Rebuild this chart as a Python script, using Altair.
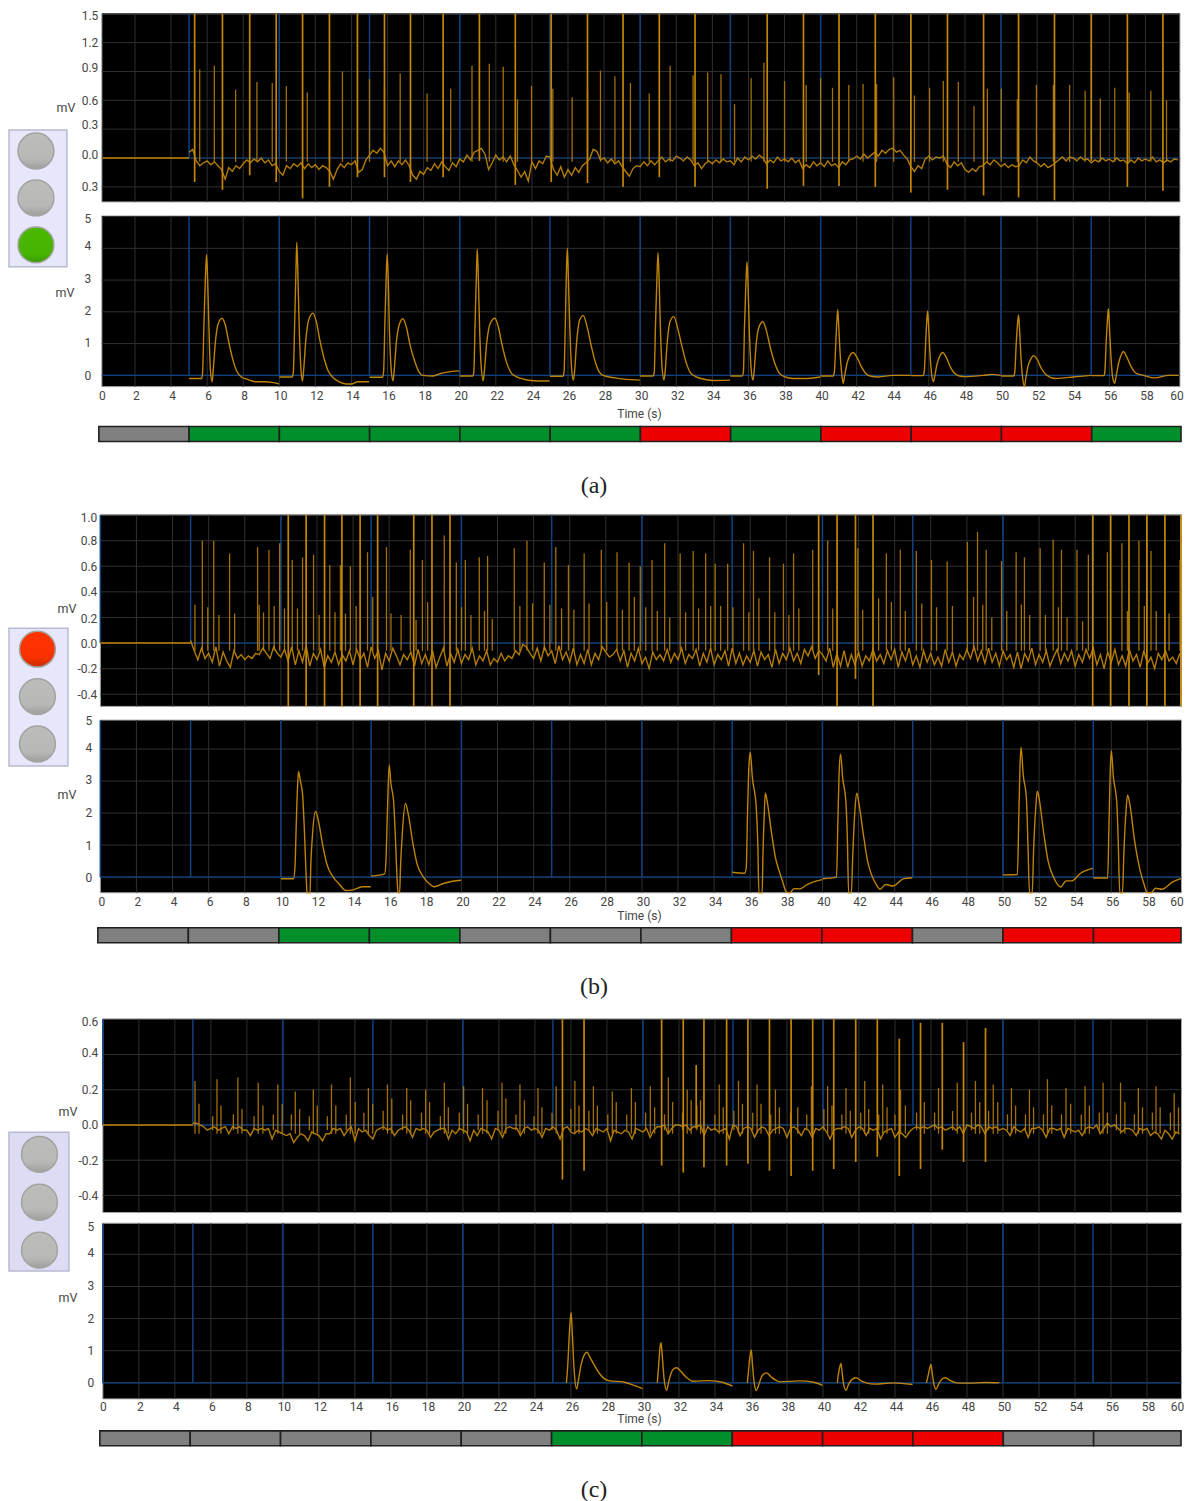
import altair as alt
import pandas as pd

# ---------- shared values ----------
GRID_T = list(range(2, 60, 2))
BLUE_T = [5, 10, 15, 20, 25, 30, 35, 40, 45, 50, 55]
X_TICKS = list(range(0, 61, 2))
SEG_START = list(range(0, 60, 5))
BOTTOM_TICKS = [5, 4, 3, 2, 1, 0]
LIGHT_NAMES = ["top", "mid", "bot"]

# ---------- trace (a) ----------
A_FULL = [(5.31,-.25),(6.85,-.33),(8.36,-.18),(9.83,-.25),(11.29,-.42),(12.78,-.3),(14.33,-.2),(15.83,-.2),
          (17.27,-.25),(19.08,-.2),(21.09,-.03),(23.08,-.28),(25.07,-.25),(27.08,-.26),(29.05,-.3),(31.06,-.2),
          (33.04,-.3),(37.04,-.32),(39.05,-.29),(41.02,-.29),(43.03,-.3),(45.0,-.36),(47.03,-.33),(49.03,-.39),
          (50.97,-.41),(52.96,-.44),(55.0,-.03),(57.0,-.3),(58.97,-.34)]
A_SPIKES = [(5.59,.92),(6.40,.96),(7.58,.71),(8.76,.79),(9.61,.78),(10.39,.75),(11.55,.68),(12.78,.8),(13.5,.9),
            (15.0,.82),(15.83,.75),(16.7,.88),(18.19,.67),(19.5,.72),(20.68,.96),(21.64,.98),(22.41,.95),(23.2,.61),
            (23.98,.75),(25.16,.72),(26.23,.63),(27.08,.7),(27.8,.91),(28.6,.85),(29.46,.78),(30.5,.67),(31.66,.96),
            (32.93,.86),(33.74,.89),(34.48,.87),(35.23,.56),(36.15,.83),(36.86,.99),(38.0,.8),(39.2,.76),(40.0,.83),
            (40.66,.73),(41.56,.76),(42.35,.77),(43.1,.77),(44.05,.84),(45.2,.65),(46.04,.73),(46.8,.8),(47.63,.79),
            (48.5,.54),(49.24,.72),(50.01,.72),(50.9,.61),(51.96,.76),(52.9,.76),(53.8,.76),(54.66,.7),(55.5,.62),
            (56.3,.73),(57.1,.68),(58.3,.7),(59.17,.6)]
A_NOISE = [6,9,-3,-8,-5, -3,-7,-4,-8,-12, -22,-10,-14,-8,-11, -6,-2,-5,-1,-4, 0,-5,-2,-8,-6,
           -14,-18,-8,-11,-6, -9,-5,-11,-6,-10, -7,-12,-8,-10,-14, -22,-12,-6,-10,-5, -7,-3,-15,-12,-2,
           3,8,5,10,6, -8,-3,-9,-3,-7, -2,-8,-18,-22,-14, -17,-10,-13,-6,-11, -4,-9,-13,-5,-9,
           -1,-4,3,-2,6, 8,10,4,-12,-5, 3,-2,1,-4,2, -7,-13,-20,-14,-24, -4,-11,-3,-6,2,
           1,-12,-18,-9,-20, -12,-18,-10,-15,-8, -5,-1,9,7,-2, 0,-5,-1,-6,-3, -9,-14,-19,-11,-8,
           -9,-4,-8,-3,-7, -3,1,-4,-1,-3, 2,0,-3,1,-2, -8,-5,-11,-6,-3, -6,-2,-5,-1,-4,
           -3,-7,0,-4,1, -2,2,-1,3,0, -6,-2,-5,1,-3, -1,-4,0,-5,-2, -11,-7,-10,-4,-8,
           -5,-9,-3,-8,-6, -10,-4,-7,-2,-1, 2,-1,4,0,3, 6,2,8,5,9, 10,6,8,3,-1,
           -9,-14,-8,-11,-1, 2,-2,1,0,2, -6,-10,-4,-8,-5, -12,-15,-11,-14,-9, -8,-4,-7,-2,-5,
           -9,-6,-10,-7,-9, -8,-2,-5,1,-3, -5,-9,-6,-10,-8, -5,-2,1,-3,1, 0,-3,1,-2,-1,
           -5,-2,-4,0,-3, -1,-4,0,-3,-2, -6,-2,-5,0,-3, -1,-3,1,-4,-2, -5,-2,-4,-1,-2]
A_BEATS = [
 [(5,-.1),(5.7,-.1),(5.75,.1),(5.82,1.5),(5.9,3),(5.97,3.8),(6.03,3.0),(6.1,1.5),(6.18,.2),(6.28,-.2),(6.33,.1),(6.45,1),(6.6,1.6),(6.83,1.8),(7.0,1.6),(7.2,1.05),(7.4,.55),(7.65,.12),(7.9,-.05),(8.2,-.12),(8.7,-.2),(9.2,-.2),(9.6,-.22),(9.98,-.27)],
 [(10,-.05),(10.72,-.05),(10.78,.1),(10.85,1.6),(10.92,3.2),(10.97,4.19),(11.03,3.2),(11.1,1.6),(11.2,.2),(11.28,-.18),(11.34,.1),(11.47,1.1),(11.63,1.75),(11.87,1.96),(12.05,1.7),(12.25,1.1),(12.45,.6),(12.7,.15),(12.95,-.05),(13.3,-.2),(13.7,-.27),(14.0,-.27),(14.35,-.2),(14.98,-.2)],
 [(15,-.06),(15.72,-.06),(15.78,.1),(15.85,1.6),(15.92,3),(15.98,3.83),(16.04,3),(16.1,1.5),(16.2,.2),(16.3,-.17),(16.36,.1),(16.48,1),(16.65,1.6),(16.85,1.78),(17.05,1.5),(17.25,.95),(17.5,.45),(17.75,.1),(17.95,0),(18.5,-.02),(18.9,.05),(19.3,.1),(19.98,.14)],
 [(20,-.02),(20.72,-.02),(20.78,.1),(20.85,1.6),(20.92,3.1),(20.97,3.97),(21.03,3.1),(21.1,1.5),(21.2,.2),(21.3,-.17),(21.36,.1),(21.5,1.05),(21.7,1.65),(21.95,1.8),(22.15,1.5),(22.35,.95),(22.6,.4),(22.85,.08),(23.1,-.03),(23.6,-.13),(24.1,-.17),(24.6,-.18),(24.98,-.18)],
 [(25,-.03),(25.72,-.03),(25.78,.1),(25.85,1.6),(25.91,3.2),(25.96,4),(26.02,3.1),(26.1,1.5),(26.2,.2),(26.3,-.15),(26.36,.1),(26.48,1.05),(26.65,1.75),(26.85,1.88),(27.05,1.55),(27.3,.9),(27.55,.35),(27.8,.06),(28.05,-.02),(28.6,-.08),(29.1,-.12),(29.98,-.15)],
 [(30,-.02),(30.72,-.02),(30.78,.1),(30.85,1.6),(30.93,3.1),(30.99,3.86),(31.05,3),(31.12,1.5),(31.22,.2),(31.32,-.15),(31.38,.1),(31.5,1.05),(31.66,1.7),(31.87,1.85),(32.05,1.55),(32.3,.95),(32.55,.4),(32.8,.07),(33.05,-.03),(33.6,-.13),(34.1,-.16),(34.98,-.15)],
 [(35,-.02),(35.65,-.02),(35.72,.1),(35.78,1.5),(35.86,2.9),(35.92,3.58),(35.98,2.8),(36.05,1.4),(36.15,.2),(36.25,-.15),(36.31,.1),(36.43,1),(36.6,1.55),(36.8,1.69),(37,1.4),(37.2,.9),(37.45,.4),(37.7,.08),(37.95,-.03),(38.5,-.1),(39.1,-.1),(39.98,-.05)],
 [(40,-.02),(40.7,-.02),(40.76,.1),(40.84,1),(40.9,1.7),(40.95,2.07),(41.0,1.6),(41.07,.8),(41.17,.05),(41.25,-.25),(41.32,-.05),(41.45,.35),(41.62,.62),(41.8,.72),(42,.58),(42.25,.28),(42.5,.06),(42.75,-.02),(43.2,-.05),(44,0),(44.98,0)],
 [(45,-.01),(45.68,-.01),(45.74,.1),(45.82,1),(45.88,1.7),(45.93,2.03),(45.98,1.6),(46.05,.8),(46.15,.05),(46.25,-.2),(46.32,-.03),(46.45,.35),(46.6,.6),(46.77,.72),(46.95,.58),(47.2,.25),(47.45,.05),(47.75,-.03),(48,-.04),(49,0),(49.5,.03),(49.98,0)],
 [(50,-.02),(50.7,-.02),(50.76,.1),(50.84,1),(50.91,1.6),(50.97,1.9),(51.02,1.5),(51.09,.7),(51.2,-.1),(51.3,-.35),(51.37,-.1),(51.5,.3),(51.65,.52),(51.8,.62),(52,.5),(52.25,.2),(52.5,.02),(53,-.1),(53.5,-.08),(54,-.05),(54.98,0)],
 [(55,-.01),(55.7,-.01),(55.75,.1),(55.83,1.1),(55.9,1.8),(55.95,2.1),(56.0,1.6),(56.08,.7),(56.18,-.05),(56.3,-.25),(56.37,-.05),(56.5,.35),(56.65,.63),(56.78,.75),(56.95,.6),(57.2,.28),(57.5,.06),(57.9,0),(58.5,-.08),(59.3,0),(59.85,0)],
]
A_LIGHTS = ["off", "off", "green"]
A_STRIP = ["#808080","#008f2b","#008f2b","#008f2b","#008f2b","#008f2b","#ee0000","#008f2b","#ee0000","#ee0000","#ee0000","#008f2b"]

# ---------- trace (b) ----------
B_FULL = [10.41,11.4,12.42,13.38,14.39,15.36,17.36,18.37,19.37,40.81,42.8,54.97,55.96,56.98,57.97,58.97,59.85]
B_HALF = [(39.79,-.25),(41.83,-.28)]
B_SPIKES = [(5.24,.3),(5.65,.8),(5.95,.28),(6.28,.8),(6.57,.22),(7.16,.7),(7.44,.23),(8.71,.75),(8.8,.3),(9.04,.24),(9.34,.73),(9.63,.29),
            (9.93,.78),(10.2,.27),(10.63,.65),(10.92,.27),(11.2,.67),(11.81,.69),(12.12,.22),(12.71,.61),(13.0,.24),(13.3,.61),(13.58,.23),
            (13.85,.6),(14.17,.29),(14.8,.71),(15.09,.36),(15.85,.75),(16.1,.23),(16.66,.22),(17.17,.73),(17.49,.18),(17.84,.65),(18.13,.32),
            (19.05,.84),(19.72,.63),(20.01,.28),(20.22,.65),(20.53,.22),(20.99,.67),(21.28,.25),(21.45,.68),(21.71,.19),(22.93,.74),(23.24,.29),
            (23.63,.8),(23.94,.31),(24.59,.63),(24.9,.3),(25.23,.75),(25.55,.27),(25.93,.61),(26.23,.26),(26.8,.7),(27.07,.31),(27.75,.73),
            (28.05,.32),(28.62,.71),(28.92,.26),(29.29,.63),(29.58,.36),(29.91,.6),(30.21,.28),(30.56,.65),(30.85,.25),(31.26,.78),(31.54,.2),
            (32.12,.7),(32.42,.24),(32.84,.72),(33.14,.27),(33.53,.7),(33.81,.29),(34.06,.62),(34.36,.29),(34.75,.62),(35.04,.28),(35.63,.78),
            (35.92,.24),(36.18,.72),(36.48,.35),(37.07,.67),(37.36,.24),(37.84,.62),(38.14,.22),(38.4,.7),(38.69,.27),(39.46,.73),(40.29,.8),
            (40.57,.27),(41.96,.74),(42.23,.26),(43.11,.35),(43.54,.7),(43.82,.32),(44.31,.73),(44.59,.25),(45.2,.72),(45.5,.31),(46.04,.65),
            (46.32,.28),(46.91,.64),(47.2,.29),(48.03,.79),(48.37,.36),(48.59,.87),(48.88,.3),(49.07,.73),(49.38,.2),(49.92,.64),(50.21,.25),
            (50.73,.71),(51.02,.3),(51.19,.67),(51.48,.22),(52.06,.74),(52.35,.22),(52.78,.81),(53.07,.28),(53.24,.73),(53.55,.2),(54.1,.73),
            (54.41,.17),(54.73,.69),(55.78,.71),(56.59,.78),(56.89,.25),(57.53,.8),(57.83,.29),(58.2,.72),(58.49,.25),(59.2,.23),(59.81,.65)]
B_NOISE = [2,-6,-13,-4,-12, -8,-15,-3,-18,-7, -14,-19,-6,-12,-9, -13,-10,-12,-8,-9, -4,-8,-12,-3,-8,
           -11,-5,-14,-3,-17, -6,-15,-2,-18,-8, -13,-5,-19,-10,-15, -7,-17,-9,-14,-6, -17,-5,-13,-8,-19,
           -3,-12,-6,-21,-8, -14,-4,-10,-17,-9, -13,-7,-18,-5,-16, -9,-17,-6,-19,-11, -4,-18,-8,-15,-5,
           -16,-9,-13,-4,-17, -10,-14,-6,-17,-12, -15,-8,-14,-10,-12, -6,-9,-1,-3,-8, -12,-4,-14,-3,-10,
           -6,-16,-2,-13,-7, -15,-4,-17,-9,-16, -5,-17,-8,-13,-3, -7,-11,-9,-5,-14, -6,-19,-8,-14,-4,
           -16,-11,-20,-7,-13, -9,-14,-5,-15,-8, -13,-4,-16,-9,-12, -5,-18,-8,-15,-4, -17,-9,-13,-6,-18,
           -4,-16,-8,-17,-10, -15,-6,-18,-7,-13, -9,-19,-5,-16,-8, -13,-4,-14,-8,-16, -5,-10,-3,-12,-6,
           -9,-14,-4,-19,-8, -18,-6,-19,-9,-17, -7,-18,-10,-14,-5, -14,-9,-16,-6,-13, -5,-19,-7,-14,-4,
           -17,-10,-19,-6,-15, -8,-17,-11,-18,-5, -15,-7,-18,-9,-13, -5,-12,-3,-14,-6, -16,-4,-15,-8,-18,
           -6,-13,-9,-19,-7, -20,-8,-14,-4,-17, -9,-15,-6,-18,-11, -5,-16,-8,-14,-6, -18,-9,-15,-5,-12,
           -4,-17,-9,-20,-7, -15,-5,-17,-10,-18, -5,-14,-9,-19,-6, -16,-11,-20,-8,-13, -6,-14,-11,-16,-8]
B_BEATS = [
 [(10,-.05),(10.7,-.05),(10.78,.3),(10.85,1.6),(10.93,2.9),(10.98,3.3),(11.08,3.0),(11.2,2.6),(11.3,1.5),(11.42,-.2),(11.45,-.49),(11.62,-.49),(11.65,.2),(11.75,1.3),(11.92,2.05),(12.1,1.7),(12.3,1.05),(12.55,.4),(12.9,0),(13.2,-.2),(13.6,-.42),(14.0,-.4),(14.5,-.3),(14.98,-.3)],
 [(15,.03),(15.75,.1),(15.82,.5),(15.9,2),(16,3.5),(16.1,2.9),(16.24,2.4),(16.34,1.3),(16.45,-.2),(16.49,-.49),(16.58,-.49),(16.62,.2),(16.72,1.3),(16.9,2.3),(17.08,1.9),(17.3,1.1),(17.55,.4),(17.9,0),(18.2,-.2),(18.5,-.3),(19,-.2),(19.5,-.13),(19.98,-.1)],
 [(35,.15),(35.7,.12),(35.78,.3),(35.85,2),(35.93,3.5),(36,3.9),(36.12,3.1),(36.33,2.2),(36.42,1),(36.48,-.49),(36.66,-.49),(36.7,.6),(36.78,2),(36.83,2.62),(36.93,2.4),(37.15,1.5),(37.4,.6),(37.6,.2),(37.8,-.15),(38,-.47),(38.2,-.49),(38.43,-.36),(38.75,-.37),(39.1,-.25),(39.5,-.15),(39.98,-.08)],
 [(40,-.05),(40.78,0),(40.85,1.6),(40.92,3.2),(41,3.85),(41.12,3.1),(41.3,2.35),(41.38,1.2),(41.45,-.49),(41.6,-.49),(41.68,.7),(41.8,2.1),(41.9,2.62),(42.02,2.3),(42.25,1.4),(42.5,.5),(42.7,.1),(42.95,-.2),(43.2,-.38),(43.5,-.23),(43.9,-.28),(44.5,-.05),(44.98,-.02)],
 [(50,.07),(50.8,.08),(50.87,1.7),(50.94,3.4),(51,4.06),(51.12,3.2),(51.3,2.45),(51.38,1.1),(51.47,-.49),(51.62,-.49),(51.7,.9),(51.82,2.2),(51.9,2.68),(52.02,2.4),(52.25,1.4),(52.5,.5),(52.8,0),(53.2,-.31),(53.5,-.12),(53.8,-.12),(54.3,.12),(54.98,.27)],
 [(55,-.03),(55.8,-.03),(55.87,1.6),(55.94,3.3),(56,3.96),(56.12,3.1),(56.3,2.38),(56.38,1.2),(56.47,-.49),(56.62,-.49),(56.7,.8),(56.82,2.1),(56.9,2.57),(57.02,2.3),(57.3,1.1),(57.6,.2),(57.8,-.2),(58,-.49),(58.2,-.49),(58.45,-.35),(58.8,-.38),(59.4,-.15),(59.85,-.05)],
]
B_LIGHTS = ["red", "off", "off"]
B_STRIP = ["#808080","#808080","#008f2b","#008f2b","#808080","#808080","#808080","#ee0000","#ee0000","#808080","#ee0000","#ee0000"]

# ---------- trace (c) ----------
C_FULL = [(25.53,-.31),(26.73,-.26),(31.04,-.23),(32.24,-.27),(33.39,-.24),(34.65,-.23),(35.83,-.22),(37.03,-.26),(38.23,-.29),(39.43,-.26),(40.6,-.25),(41.82,-.21)]
C_TALL = [(43.02,.6,-.18),(44.24,.49,-.29),(45.42,.58,-.25),(46.63,.58,-.14),(47.81,.47,-.21),(49.03,.55,-.21),(32.96,.34,-.02)]
C_SPIKES = [(5.12,.25),(5.34,.12),(6.34,.26),(6.56,.11),(7.5,.27),(7.73,.09),(8.63,.24),(8.89,.11),(9.72,.23),(9.96,.12),(10.69,.19),(10.93,.09),
            (11.69,.2),(11.91,.11),(12.7,.23),(12.94,.11),(13.75,.27),(14.02,.13),(14.75,.21),(14.99,.12),(15.81,.23),(16.05,.15),(16.88,.21),(17.1,.14),
            (17.93,.2),(18.15,.13),(18.97,.24),(19.19,.1),(20.04,.22),(20.26,.12),(21.09,.21),(21.34,.14),(22.17,.24),(22.39,.15),(23.17,.23),(23.42,.14),
            (24.17,.21),(24.39,.1),(25.18,.22),(26.22,.25),(26.45,.11),(27.25,.22),(27.47,.11),(28.3,.19),(28.52,.13),(29.36,.21),(29.58,.13),(30.41,.22),
            (30.65,.1),(31.41,.27),(31.65,.13),(32.46,.2),(32.68,.14),(33.2,.14),(34.24,.23),(34.46,.1),(35.31,.25),(35.53,.12),(36.34,.23),(36.56,.12),
            (37.36,.2),(37.58,.1),(38.6,.1),(39.36,.22),(40.26,.22),(40.5,.11),(41.28,.21),(41.52,.08),(42.32,.25),(42.54,.09),(43.32,.23),(43.56,.1),
            (44.31,.2),(44.58,.11),(45.63,.13),(46.42,.21),(47.46,.24),(48.47,.25),(48.71,.13),(49.46,.23),(49.71,.13),(50.47,.21),(50.7,.11),(51.47,.2),
            (51.7,.1),(52.47,.26),(52.71,.11),(53.5,.21),(53.76,.12),(54.56,.22),(54.8,.11),(55.56,.24),(55.8,.07),(56.53,.24),(56.77,.13),(57.52,.21),
            (57.75,.1),(58.5,.22),(58.73,.1),(59.51,.18),(59.75,.1)]
C_PRE_T = [6.1,7.25,8.4,9.47,10.47,11.47,12.47,13.52,14.5,15.57,16.65,17.7,18.75,19.8,20.85,21.95,22.95,23.95,24.95,26,27,28.05,29.1,30.15,
           31.2,32.2,33,34,35.05,36.1,37.1,38.2,39.1,40.05,41.05,42.1,43.1,44,45.2,46.2,47.2,48.25,49.2,50.25,51.25,52.25,53.25,54.35,55.35,56.3,57.3,58.3,59.3]
C_PRE_V = [.05,.06,.05,.06,.06,.05,.05,.06,.07,.08,.06,.07,.05,.07,.06,.08,.06,.05,.07,.09,.08,.06,.06,.07,
           .06,.07,.11,.06,.08,.07,.06,.07,.06,.09,.06,.07,.06,.06,.07,.07,.08,.07,.08,.06,.06,.06,.06,.06,.07,.06,.06,.07,.07]
C_NOISE = [1,1,0,-1,-3, -2,-1,-3,-2,-1, -5,-1,-2,-1,-3, -3,-6,-2,-3,-2, -3,-2,-8,-3,-4,
           -5,-6,-5,-10,-7, -5,-6,-9,-4,-5, -6,-9,-5,-5,-2, -3,-2,-6,-3,-1, -9,-2,-4,-3,-6,
           -8,-3,-2,-1,-3, -2,-6,-3,-2,-1, -3,-7,-2,-3,-2, -3,-7,-4,-3,-2, -2,-8,-3,-5,-2,
           -3,-4,-9,-3,-6, -2,-3,-4,-8,-2, -3,-7,-2,-1,-2, -2,-6,-2,-1,-3, -2,-3,-7,-2,-3,
           -1,-3,-8,-2,-1, -4,-5,-3,-4,-2, -3,-6,-2,-3,-4, -2,-9,-3,-4,-5, -3,-4,-8,-2,-3,
           -4,-2,-7,-3,-1, -1,0,-5,-2,0, 0,-1,0,-3,-1, -1,0,-6,-1,-3, -2,-4,-3,-2,-8,
           0,-1,-6,-2,-1, -2,-7,-3,-1,-2, -6,-3,-2,-1,-2, -7,-2,-1,-3,-6, -2,-3,-7,-2,-3,
           -1,-4,-8,-3,-2, -2,-1,-2,-7,-3, -1,-2,-6,-2,-3, -2,-8,-4,-3,-2, -7,-4,-5,-7,-4,
           -2,-1,-2,-1,-2, -1,0,-2,-1,-3, -2,-1,-3,-1,-5, 0,-1,-2,0,-1, -5,-1,-2,-1,-3,
           -2,-3,-6,-1,-3, -4,-2,-7,-2,-2, -1,-3,-7,-2,-2, -3,-2,-7,-2,-3, -4,-3,-6,-2,-1,
           -2,0,-5,-2,1, -1,0,-2,-4,-2, -2,-3,-6,-2,-3, -2,-6,-4,-5,-8, -3,-5,-8,-4,-5]
C_BEATS = [
 [(25.75,0),(25.82,.5),(25.92,1.6),(26.01,2.2),(26.08,1.5),(26.18,.4),(26.32,-.19),(26.42,.1),(26.58,.6),(26.75,.88),(26.89,.95),(27.05,.8),(27.3,.55),(27.63,.26),(27.85,.13),(28.1,.07),(28.97,.02),(29.5,-.08),(29.98,-.18)],
 [(30.8,0),(30.88,.6),(30.95,1.1),(31.01,1.25),(31.08,.8),(31.18,.1),(31.32,-.23),(31.42,0),(31.58,.32),(31.72,.44),(31.87,.47),(32.1,.36),(32.4,.18),(32.8,.05),(33.7,.07),(34.4,.02),(34.98,-.1)],
 [(35.8,0),(35.87,.4),(35.95,.85),(36.02,1.02),(36.08,.6),(36.18,0),(36.3,-.24),(36.42,-.08),(36.6,.2),(36.75,.29),(36.87,.31),(37.1,.2),(37.35,.09),(37.6,.03),(38.7,.06),(39.5,.02),(39.98,-.08)],
 [(40.8,0),(40.87,.3),(40.95,.53),(41,.6),(41.07,.3),(41.15,-.05),(41.28,-.23),(41.42,-.05),(41.6,.1),(41.84,.16),(42.1,.07),(42.4,0),(42.9,-.04),(43.9,0),(44.98,-.05)],
 [(45.75,0),(45.85,.25),(45.95,.5),(46,.57),(46.07,.3),(46.16,-.03),(46.28,-.2),(46.42,-.05),(46.6,.11),(46.8,.16),(47.05,.08),(47.4,0),(48.1,-.01),(49,.01),(49.8,0)],
]
C_LIGHTS = ["off", "off", "off"]
C_STRIP = ["#808080"]*5 + ["#008f2b","#008f2b","#ee0000","#ee0000","#ee0000","#808080","#808080"]

ORANGE = "#c98a08"
BLUE = "#0d4283"
GRID = "#303030"
TEXT = "#454545"
FONT = "Roboto"
T0 = 5.0
DT = 0.2
VIEW_W = 1176
RIGHT_EDGE = 1183.5
FILLS = {
    "off": alt.Gradient(gradient="linear", x1=0, x2=0, y1=0, y2=1,
                        stops=[alt.GradientStop(color="#bcbcba", offset=0), alt.GradientStop(color="#b8b8b6", offset=.72),
                               alt.GradientStop(color="#a2a2a0", offset=.95), alt.GradientStop(color="#acacaa", offset=1)]),
    "green": alt.Gradient(gradient="linear", x1=0, x2=0, y1=0, y2=1,
                          stops=[alt.GradientStop(color="#4ab700", offset=0), alt.GradientStop(color="#47b400", offset=.75),
                                 alt.GradientStop(color="#399a00", offset=1)]),
    "red": alt.Gradient(gradient="linear", x1=0, x2=0, y1=0, y2=1,
                        stops=[alt.GradientStop(color="#ff3300", offset=0), alt.GradientStop(color="#fb3200", offset=.72),
                               alt.GradientStop(color="#c42c00", offset=1)]),
}
one = pd.DataFrame({"k": [0]})


def panel(vt, vb, pt, pb, x0, x60, pl, pr, ydom, yticks, ylab, yoff, lab_x, mv, line_segs, spikes_thin, spikes_thick,
          noise=None, zero_from=0, blue_extra=(), xaxis=None, lights=None, bg_top=None, blue_hi=None):
    xs = alt.Scale(domain=[0, 60], range=[x0 - 8, x60 - 8])
    ys = alt.Scale(domain=ydom, range=[pb - vt, pt - vt], zero=False, nice=False)
    top = pt if bg_top is None else bg_top
    hi = ydom[1] if blue_hi is None else blue_hi
    pr = min(pr, RIGHT_EDGE)
    bg = alt.Chart(one).mark_rect(fill="black", stroke="#a8a8a8", strokeWidth=1).encode(
        x=alt.value(pl - 8), x2=alt.value(pr - 8), y=alt.value(top - vt), y2=alt.value(pb - vt))
    cond = {"condition": [{"test": f"datum.value==={v}", "value": o} for v, o in yoff.items()], "value": 0}
    yaxis = alt.Axis(values=yticks, title=None, grid=False, ticks=False, domain=False, labelExpr=ylab, offset=-(lab_x - 8),
                     labelPadding=0, labelFont=FONT, labelFontSize=12, labelColor=TEXT, labelOffset=cond)
    grid_v = [v for v in yticks if ydom[0] <= v <= hi]
    ygrid = alt.Chart(pd.DataFrame({"v": grid_v})).mark_rule(color=GRID, strokeWidth=1).encode(
        y=alt.Y("v:Q", scale=ys, axis=yaxis), x=alt.value(pl - 8), x2=alt.value(pr - 8))
    X = lambda f: alt.X(f, scale=xs, axis=xaxis)
    Y = lambda f: alt.Y(f, scale=ys, axis=yaxis)
    xgrid = alt.Chart(pd.DataFrame({"t": GRID_T})).mark_rule(color=GRID, strokeWidth=1).encode(
        x=X("t:Q"), y=alt.value(top - vt), y2=alt.value(pb - vt))
    blue_t = list(blue_extra) + BLUE_T
    blue_v = alt.Chart(pd.DataFrame({"t": blue_t, "lo": [0.0] * len(blue_t), "hi": [hi] * len(blue_t)})).mark_rule(
        color=BLUE, strokeWidth=1.5).encode(x=X("t:Q"), y=Y("lo:Q"), y2="hi:Q")
    blue_h = alt.Chart(pd.DataFrame({"a": [zero_from], "b": [59.85], "v": [0.0]})).mark_rule(color=BLUE, strokeWidth=1.2).encode(
        x=X("a:Q"), x2="b:Q", y=Y("v:Q"))
    layers = [bg, ygrid, xgrid, blue_v, blue_h]
    recs = []
    for i, seg in enumerate(line_segs):
        recs += [{"t": t, "v": v, "s": i} for t, v in seg]
    layers.append(alt.Chart(pd.DataFrame(recs)).mark_line(color=ORANGE, strokeWidth=1.4, opacity=.95, interpolate="monotone").encode(
        x=X("t:Q"), y=Y("v:Q"), detail="s:N"))
    if noise is not None:
        nrec = [{"t": T0 + DT * i, "v": n / 100} for i, n in enumerate(noise) if T0 + DT * i <= 59.85]
        layers.append(alt.Chart(pd.DataFrame(nrec)).mark_line(color="#c78a0a", strokeWidth=1.4, opacity=.9).encode(
            x=X("t:Q"), y=Y("v:Q")))
    if spikes_thin is not None:
        layers.append(alt.Chart(pd.DataFrame(spikes_thin, columns=["t", "p", "q"])).mark_rule(color="#b57c08", strokeWidth=1.3, opacity=.9).encode(
            x=X("t:Q"), y=Y("p:Q"), y2="q:Q"))
    if spikes_thick is not None:
        layers.append(alt.Chart(pd.DataFrame(spikes_thick, columns=["t", "p", "q"])).mark_rule(color="#c48605", strokeWidth=1.7).encode(
            x=X("t:Q"), y=Y("p:Q"), y2="q:Q"))
    layers.append(alt.Chart(one).mark_text(text="mV", font=FONT, fontSize=12.5, color=TEXT).encode(
        x=alt.value(mv[0] - 8), y=alt.value(mv[1] - vt)))
    main = alt.layer(*layers)
    if lights is not None:
        states, box, cx, cys, fill = lights
        b = alt.Chart(one).mark_rect(fill=fill, stroke="#b9b9d2", strokeWidth=1.5).encode(
            x=alt.value(box[0] - 8), x2=alt.value(box[1] - 8), y=alt.value(box[2] - vt), y2=alt.value(box[3] - vt))
        lscale = alt.Scale(type="point", domain=LIGHT_NAMES, range=[cys[0] - vt, cys[1] - vt], padding=0)
        ll = [b]
        for name, st in zip(LIGHT_NAMES, states):
            ll.append(alt.Chart(pd.DataFrame({"light": [name]})).mark_point(
                shape="circle", filled=True, size=1290, fill=FILLS[st], stroke="#a3a39f", strokeWidth=1.5, opacity=1).encode(
                x=alt.value(cx - 8), y=alt.Y("light:N", scale=lscale, axis=None)))
        main = alt.layer(main, *ll).resolve_scale(y="independent")
    return main.properties(width=VIEW_W, height=vb - vt)


def strip(vt, vb, pt, pb, x0, x60, colors, caption, cap_y):
    xs = alt.Scale(domain=[0, 60], range=[x0 - 8, x60 - 8])
    ends = [s + 5 for s in SEG_START]
    ends[-1] = min(60, (1183 - x0) / ((x60 - x0) / 60))
    df = pd.DataFrame({"s": SEG_START, "e": ends, "c": colors})
    r = alt.Chart(df).mark_rect(stroke="#202020", strokeWidth=1.6).encode(
        x=alt.X("s:Q", scale=xs, axis=None), x2="e:Q", y=alt.value(pt - vt), y2=alt.value(pb - vt),
        color=alt.Color("c:N", scale=None))
    cap = alt.Chart(one).mark_text(text=caption, font="Liberation Serif", fontSize=24, color="#222222").encode(
        x=alt.value(587), y=alt.value(cap_y - vt))
    return alt.layer(r, cap).properties(width=VIEW_W, height=vb - vt)


def xax(title_x, title_y, pad, first, last):
    off = {"condition": [{"test": "datum.value===0", "value": first}, {"test": "datum.value===60", "value": last}], "value": 1}
    return alt.Axis(values=X_TICKS, title="Time (s)", grid=False, ticks=False, domain=False, labelFont=FONT, labelFontSize=12,
                    labelColor=TEXT, labelPadding=pad, labelOffset=off, labelFlush=False, labelOverlap=False, format="d",
                    titleFont=FONT, titleFontSize=12, titleFontWeight="normal", titleColor=TEXT, titleX=title_x, titleY=title_y,
                    titleBaseline="middle")


def full_rows(f, top):
    return [(t, top, q) for t, q in f]


def thin_rows(s, q=-.04):
    return [(t, p, q) for t, p in s]


FLAT = [[(0, 0), (5, 0)]]
mv1 = "format(abs(datum.value),'.1f')"
mv2 = "replace(format(datum.value,'.1f'),'\u2212','-')"
mv3 = "format(datum.value,'d')"

a_top = panel(8, 197, 8.5, 197, 99, 1183.5, 102, 1182, [-.457, 1.5], [1.5, 1.2, .9, .6, .3, 0, -.3], mv1,
              {1.5: 2, .9: -4, .3: -5, 0: -3}, 98, (66, 103), [[(.2, 0), (5, 0)]], thin_rows(A_SPIKES), full_rows(A_FULL, 1.5),
              noise=A_NOISE, zero_from=5,
              lights=(A_LIGHTS, (9, 67, 125, 262), 36, (146, 240), "#e7e7fb"))
a_bot = panel(197, 382, 211, 382, 99, 1183.5, 102, 1182, [-.355, 5.02], BOTTOM_TICKS, mv3,
              {5: 2, 4: -3, 3: -2, 2: -1, 1: -1}, 91, (65, 288), A_BEATS, None, None, zero_from=.2,
              xaxis=xax(632, 27, 4, 3, -5))
a_strip = strip(382, 437, 422, 437, 99, 1184, A_STRIP, "(a)", 482)

b_top = panel(437, 702, 510.7, 702.3, 100.5, 1185.5, 100.5, 1186, [-.495, 1.0], [1.0, .8, .6, .4, .2, 0, -.2, -.4], mv2,
              {1.0: 2, .2: 1}, 97, (67, 605), FLAT,
              thin_rows(B_SPIKES, -.06),
              [(t, 1.0, -.495) for t in B_FULL] + [(t, 1.0, q) for t, q in B_HALF],
              noise=B_NOISE, zero_from=5, blue_extra=[0],
              lights=(B_LIGHTS, (9, 68, 624, 762), 37.5, (645, 740), "#e7e7fb"))
b_bot = panel(702, 889, 713, 889, 100.5, 1185.5, 100.5, 1186, [-.49, 5], BOTTOM_TICKS, mv3,
              {5: 3, 4: -2, 3: -2, 2: -1}, 92, (67, 791), B_BEATS, None, None, zero_from=0, blue_extra=[0],
              xaxis=xax(632, 23, 4, 1, -7), bg_top=716, blue_hi=4.9)
b_strip = strip(889, 939, 924, 939, 98, 1186, B_STRIP, "(b)", 983)

c_top = panel(939, 1209, 1015.7, 1209.3, 103, 1185, 103, 1186, [-.497, .6], [.6, .4, .2, 0, -.2, -.4], mv2,
              {.6: 2, .4: -2}, 98, (68, 1109), FLAT,
              thin_rows(C_SPIKES, -.05) + [(t, v, -.03) for t, v in zip(C_PRE_T, C_PRE_V)],
              full_rows(C_FULL, .6) + C_TALL,
              noise=C_NOISE, zero_from=5, blue_extra=[0],
              lights=(C_LIGHTS, (9, 69, 1129, 1268), 39.5, (1151, 1247), "#dcdcf4"))
c_bot = panel(1209, 1396, 1219, 1396, 103, 1185, 103, 1186, [-.5, 5], BOTTOM_TICKS, mv3,
              {5: 4, 4: -2, 3: -1}, 94, (68, 1295), C_BEATS, None, None, zero_from=0, blue_extra=[0],
              xaxis=xax(632, 20, 3, 0, -6), bg_top=1220, blue_hi=4.96)
c_strip = strip(1396, 1443, 1428, 1443, 100, 1186, C_STRIP, "(c)", 1487)

chart = alt.vconcat(a_top, a_bot, a_strip, b_top, b_bot, b_strip, c_top, c_bot, c_strip, spacing=0, bounds="flush").properties(
    padding=0, background="white").configure_view(stroke=None)

chart.save("out.html", embed_options={"renderer": "svg", "actions": False})
